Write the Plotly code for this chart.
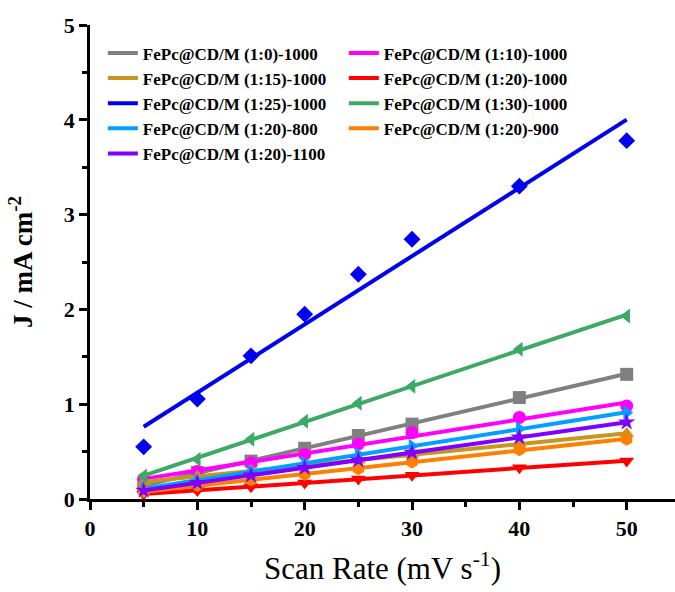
import numpy as np
import plotly.graph_objects as go

scan_rate = [5, 10, 15, 20, 25, 30, 40, 50]

names = [
    "FePc@CD/M (1:0)-1000", "FePc@CD/M (1:10)-1000",
    "FePc@CD/M (1:15)-1000", "FePc@CD/M (1:20)-1000",
    "FePc@CD/M (1:25)-1000", "FePc@CD/M (1:30)-1000",
    "FePc@CD/M (1:20)-800", "FePc@CD/M (1:20)-900",
    "FePc@CD/M (1:20)-1100",
]

j_1_0_1000 = [0.14, 0.28, 0.40, 0.535, 0.67, 0.79, 1.07, 1.315]
j_1_10_1000 = [0.21, 0.29, 0.38, 0.47, 0.58, 0.70, 0.86, 0.98]
j_1_15_1000 = [0.18, 0.24, 0.30, 0.35, 0.41, 0.47, 0.58, 0.69]
j_1_20_1000 = [0.05, 0.09, 0.13, 0.17, 0.21, 0.25, 0.33, 0.40]
j_1_25_1000 = [0.55, 1.055, 1.51, 1.95, 2.37, 2.74, 3.30, 3.78]
j_1_30_1000 = [0.243, 0.42, 0.63, 0.82, 1.01, 1.19, 1.58, 1.93]
j_1_20_800 = [0.11, 0.19, 0.29, 0.38, 0.47, 0.56, 0.74, 0.91]
j_1_20_900 = [0.08, 0.14, 0.20, 0.26, 0.32, 0.39, 0.52, 0.63]
j_1_20_1100 = [0.09, 0.17, 0.25, 0.33, 0.41, 0.49, 0.65, 0.81]

series = [j_1_0_1000, j_1_10_1000, j_1_15_1000, j_1_20_1000, j_1_25_1000,
          j_1_30_1000, j_1_20_800, j_1_20_900, j_1_20_1100]
colors = ["#808080", "#FF00FF", "#C8961E", "#FF0000", "#0000F0",
          "#3CAA64", "#00A0FF", "#FF8000", "#8000FF"]
symbols = ["square", "circle", "triangle-up", "triangle-down", "diamond",
           "triangle-left", "triangle-right", "hexagon", "star"]

fig = go.Figure()
x = np.array(scan_rate, dtype=float)
for name, ys, c, s in zip(names, series, colors, symbols):
    ys = np.array(ys)
    k, b = np.polyfit(x, ys, 1)
    xf = np.array([x.min(), x.max()])
    fig.add_trace(go.Scatter(x=xf, y=k * xf + b, mode="lines", name=name,
                             line=dict(color=c, width=4), cliponaxis=False))
    fig.add_trace(go.Scatter(x=x, y=ys, mode="markers", showlegend=False,
                             marker=dict(symbol=s, color=c, size=13, line=dict(width=0)),
                             cliponaxis=False))

f_serif = "Liberation Serif"
fig.update_layout(
    width=675, height=592,
    margin=dict(l=90, r=0, t=25, b=93),
    paper_bgcolor="white", plot_bgcolor="white",
    font=dict(family=f_serif, color="black"),
    showlegend=True,
    legend=dict(orientation="h", x=0.022, y=0.978, xanchor="left", yanchor="top",
                entrywidth=196, entrywidthmode="pixels",
                font=dict(family=f_serif, size=17, color="black", weight="bold"),
                bgcolor="rgba(0,0,0,0)", tracegroupgap=0, itemwidth=30),
    xaxis=dict(range=[0, 54.5], showgrid=False, zeroline=False,
               showline=True, linecolor="black", linewidth=2.5,
               ticks="outside", tickwidth=2.5, ticklen=8, tickcolor="black",
               tick0=0, dtick=10,
               minor=dict(ticks="outside", ticklen=5, tickwidth=2.5, tickcolor="black", dtick=5),
               tickfont=dict(family=f_serif, size=22, color="black", weight="bold"),
               title=dict(text="Scan Rate (mV s<sup>-1</sup>)", standoff=18,
                          font=dict(family=f_serif, size=31, color="black"))),
    yaxis=dict(range=[0, 5], showgrid=False, zeroline=False,
               showline=True, linecolor="black", linewidth=2.5,
               ticks="outside", tickwidth=2.5, ticklen=8, tickcolor="black",
               tick0=0, dtick=1,
               minor=dict(ticks="outside", ticklen=5, tickwidth=2.5, tickcolor="black", dtick=0.5),
               tickfont=dict(family=f_serif, size=22, color="black", weight="bold"),
               title=dict(text="J / mA cm<sup>-2</sup>", standoff=24,
                          font=dict(family=f_serif, size=27, color="black", weight="bold"))),
)

fig.write_html("out.html")
